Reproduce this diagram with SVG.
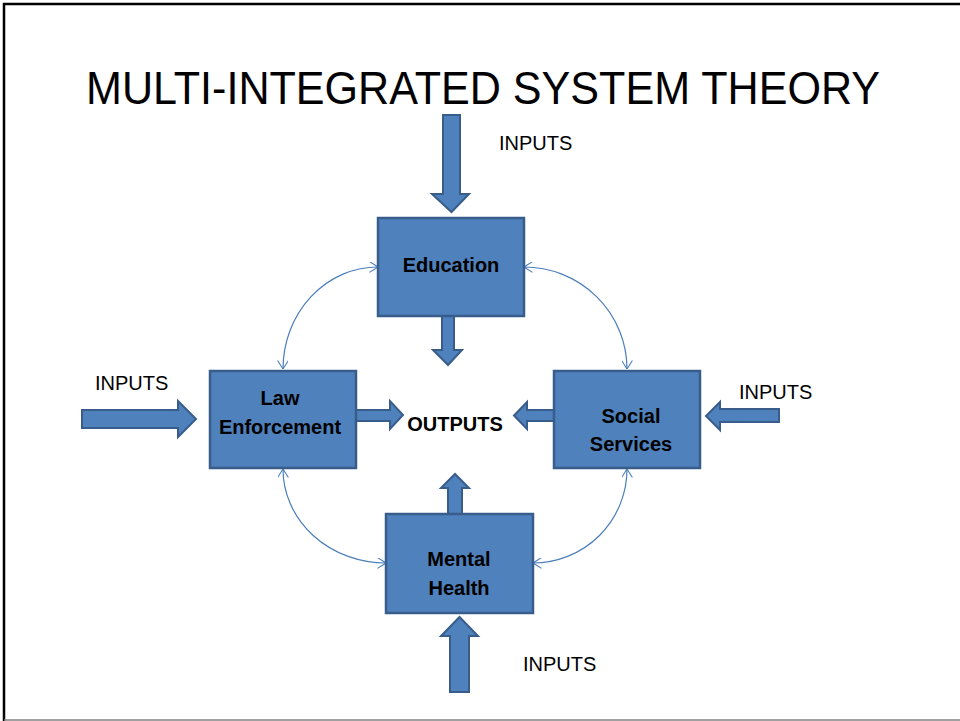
<svg xmlns="http://www.w3.org/2000/svg" width="960" height="721" viewBox="0 0 960 721">
<defs>
<marker id="oa" viewBox="0 0 10 12" refX="9.5" refY="6" markerWidth="9" markerHeight="11" markerUnits="userSpaceOnUse" orient="auto-start-reverse">
<path d="M0,0 L9.5,6 L0,12" fill="none" stroke="#4a7ebb" stroke-width="1.2"/>
</marker>
</defs>
<style>
.box{fill:#4f81bd;stroke:#385d8a;stroke-width:2.5}
.blk{fill:#4f81bd;stroke:#385d8a;stroke-width:2;stroke-linejoin:miter}
.lbl{font-family:"Liberation Sans",Arial,sans-serif;font-weight:bold;font-size:20px;fill:#000;text-anchor:middle}
.inp{font-family:"Liberation Sans",Arial,sans-serif;font-size:20px;fill:#000}
.arc{fill:none;stroke:#4a7ebb;stroke-width:1.2;marker-start:url(#oa);marker-end:url(#oa)}
</style>
<rect width="960" height="721" fill="#fff"/>
<path d="M4 721 V4 H960" fill="none" stroke="#000" stroke-width="2.5"/>
<line x1="4" y1="720" x2="960" y2="720" stroke="#808080" stroke-width="1.5"/>
<g id="title">
<text x="483" y="104" font-family="'Liberation Sans',Arial,sans-serif" font-size="46" text-anchor="middle" textLength="794" lengthAdjust="spacingAndGlyphs">MULTI-INTEGRATED SYSTEM THEORY</text>
</g>
<g id="connectors">
<path class="arc" d="M283 369 A95 102 0 0 1 378 267"/>
<path class="arc" d="M524 267 A103 102 0 0 1 627 369"/>
<path class="arc" d="M283 469 A103 94 0 0 0 386 563"/>
<path class="arc" d="M627 469 A94 94 0 0 1 533 563"/>
<polygon class="blk" points="443,115 460,115 460,194 469,194 451.5,212 432,194 443,194"/>
<polygon class="blk" points="442,316 454,316 454,350 462,350 448,365 433,350 442,350"/>
<polygon class="blk" points="82,410 178,410 178,401 196,419 178,437 178,428 82,428"/>
<polygon class="blk" points="356,410 390,410 390,401 403,415 390,429 390,421 356,421"/>
<polygon class="blk" points="554,410 527,410 527,402 514,415.5 527,429 527,421 554,421"/>
<polygon class="blk" points="779,409 720,409 720,402 706,416 720,430 720,422 779,422"/>
<polygon class="blk" points="448,514 448,488 441,488 455,474 469,488 462,488 462,514"/>
<polygon class="blk" points="450,692 450,636 441,636 459.5,617 478,636 469,636 469,692"/>
</g>
<g id="education">
<rect class="box" x="378" y="218" width="146" height="98"/>
<text class="lbl" x="451" y="272">Education</text>
</g>
<g id="law-enforcement">
<rect class="box" x="210" y="371" width="146" height="97"/>
<text class="lbl" x="280" y="405">Law</text>
<text class="lbl" x="280" y="434">Enforcement</text>
</g>
<g id="social-services">
<rect class="box" x="554" y="371" width="146" height="97"/>
<text class="lbl" x="631" y="423">Social</text>
<text class="lbl" x="631" y="451">Services</text>
</g>
<g id="mental-health">
<rect class="box" x="386" y="514" width="147" height="99"/>
<text class="lbl" x="459" y="566">Mental</text>
<text class="lbl" x="459" y="595">Health</text>
</g>
<g id="outputs">
<text class="lbl" x="455" y="431">OUTPUTS</text>
</g>
<g id="inputs">
<text class="inp" x="499" y="150">INPUTS</text>
<text class="inp" x="95" y="390">INPUTS</text>
<text class="inp" x="739" y="399">INPUTS</text>
<text class="inp" x="523" y="671">INPUTS</text>
</g>
</svg>
